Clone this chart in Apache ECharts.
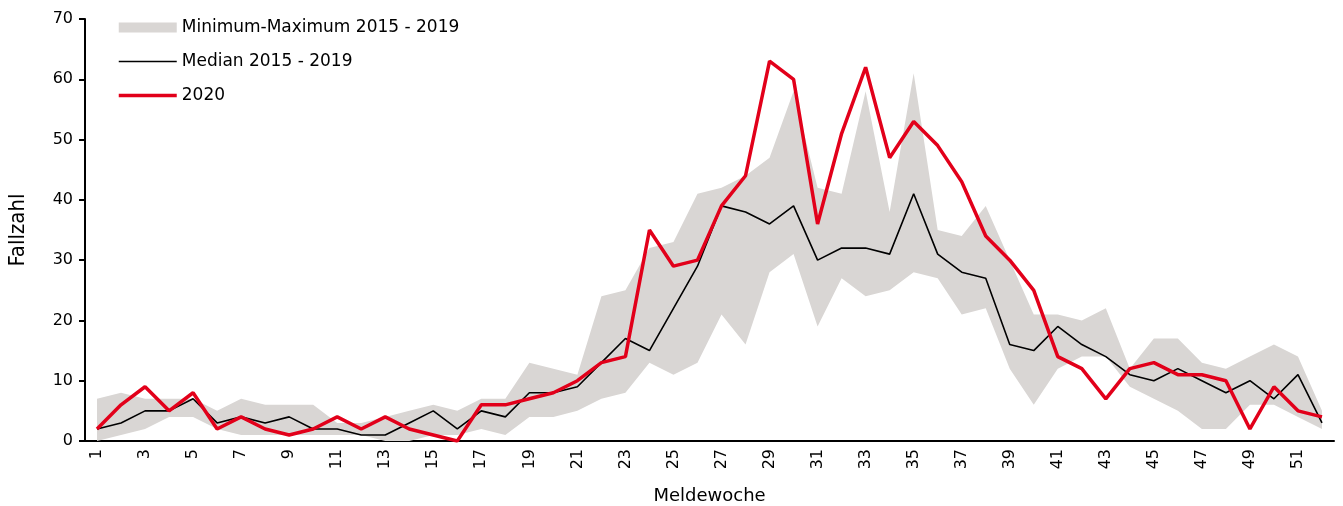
<!DOCTYPE html>
<html>
<head>
<meta charset="utf-8">
<script src="https://cdn.jsdelivr.net/npm/echarts@6/dist/echarts.min.js"></script>
<style>
html,body{margin:0;padding:0;background:#fff;}
#chart{width:1343px;height:506px;}
</style>
</head>
<body>
<div id="chart"></div>
<script>
// Meldewoche 1..52
var weeks = [];
for (var w = 1; w <= 52; w++) weeks.push(String(w));

var minValues = [0,1,2,4,4,2,1,1,1,1,1,1,0,0,1,1,2,1,4,4,5,7,8,13,11,13,21,16,28,31,19,27,24,25,28,27,21,22,12,6,12,14,14,9,7,5,2,2,6,6,4,2];
var maxValues = [7,8,7,7,7,5,7,6,6,6,3,3,4,5,6,5,7,7,13,12,11,24,25,32,33,41,42,44,47,58,42,41,58,38,61,35,34,39,30,21,21,20,22,12,17,17,13,12,14,16,14,5];
var medianValues = [2,3,5,5,7,3,4,3,4,2,2,1,1,3,5,2,5,4,8,8,9,13,17,15,22,29,39,38,36,39,30,32,32,31,41,31,28,27,16,15,19,16,14,11,10,12,10,8,10,7,11,3];
var values2020 = [2,6,9,5,8,2,4,2,1,2,4,2,4,2,1,0,6,6,7,8,10,13,14,35,29,30,39,44,63,60,36,51,62,47,53,49,43,34,30,25,14,12,7,12,13,11,11,10,2,9,5,4];

// Band = Max - Min, gestapelt auf Min
var bandValues = maxValues.map(function(v, i){ return v - minValues[i]; });

var font = 'DejaVu Sans';
var myChart = echarts.init(document.getElementById('chart'));
var option = {
    animation: false,
    grid: { left: 85, right: 9, top: 19, bottom: 65, outerBoundsMode: 'none', containLabel: false },
    legend: {
        left: 112,
        top: 14,
        orient: 'vertical',
        itemWidth: 58,
        itemHeight: 10,
        itemGap: 17,
        textStyle: { fontFamily: font, fontSize: 17, color: '#000' },
        data: [
            { name: 'Minimum-Maximum 2015 - 2019', icon: 'rect' },
            { name: 'Median 2015 - 2019', itemStyle: { opacity: 0 }, lineStyle: { width: 1.6 } },
            { name: '2020', itemStyle: { opacity: 0 }, lineStyle: { width: 3.5 } }
        ]
    },
    xAxis: {
        type: 'category',
        data: weeks,
        boundaryGap: true,
        name: 'Meldewoche',
        nameLocation: 'middle',
        nameGap: 46,
        nameTextStyle: { fontFamily: font, fontSize: 18, color: '#000' },
        axisLine: { lineStyle: { color: '#000', width: 2 } },
        axisTick: { interval: 0, length: 6, lineStyle: { color: '#000', width: 2 } },
        axisLabel: { interval: 1, rotate: 90, margin: 8, fontFamily: font, fontSize: 16, color: '#000' }
    },
    yAxis: {
        type: 'value',
        min: 0,
        max: 70,
        interval: 10,
        name: 'Fallzahl',
        nameLocation: 'middle',
        nameGap: 56,
        nameTextStyle: { fontFamily: '"Liberation Sans Narrow", "DejaVu Sans Condensed", "Liberation Sans"', fontSize: 22, color: '#000' },
        splitLine: { show: false },
        axisLine: { show: true, lineStyle: { color: '#000', width: 2 } },
        axisTick: { show: true, length: 6, lineStyle: { color: '#000', width: 2 } },
        axisLabel: { margin: 12, fontFamily: font, fontSize: 16, color: '#000' }
    },
    series: [
        {
            name: 'min',
            type: 'line',
            stack: 'band',
            data: minValues,
            symbol: 'none',
            lineStyle: { opacity: 0 },
            silent: true
        },
        {
            name: 'Minimum-Maximum 2015 - 2019',
            type: 'line',
            stack: 'band',
            data: bandValues,
            symbol: 'none',
            itemStyle: { color: '#d9d6d4' },
            lineStyle: { opacity: 0, width: 0 },
            areaStyle: { color: '#d9d6d4', opacity: 1 },
            z: 1
        },
        {
            name: 'Median 2015 - 2019',
            type: 'line',
            data: medianValues,
            symbol: 'none',
            itemStyle: { color: '#000' },
            lineStyle: { color: '#000', width: 1.6 },
            z: 3
        },
        {
            name: '2020',
            type: 'line',
            data: values2020,
            symbol: 'none',
            itemStyle: { color: '#e2001a' },
            lineStyle: { color: '#e2001a', width: 3.5 },
            z: 4
        }
    ]
};
myChart.setOption(option);
</script>
</body>
</html>
